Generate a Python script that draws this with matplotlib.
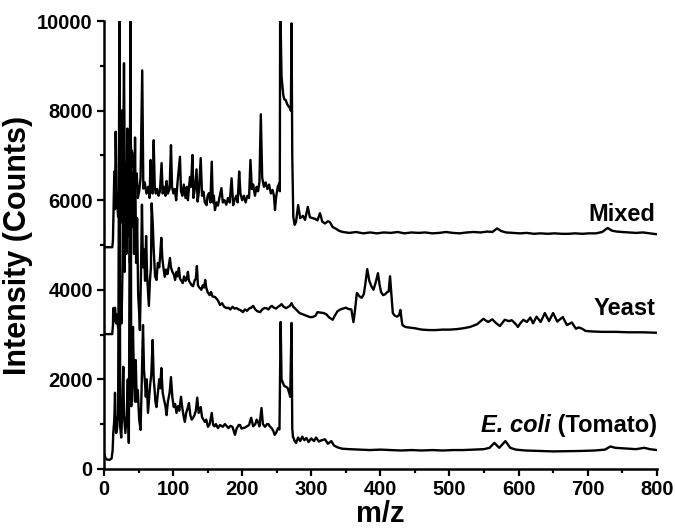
import matplotlib
matplotlib.use("Agg")
import matplotlib.pyplot as plt
from matplotlib.ticker import MultipleLocator

plt.rcParams['font.family'] = ['Liberation Sans', 'DejaVu Sans']
plt.rcParams['font.weight'] = 'bold'

# ---------------- data (m/z, counts) ----------------
mixed_points = [
    (0, 4950), (12, 4950), (13, 5100), (13.5, 5490), (15, 6640), (16, 5800), (17, 7530), (18.5, 6080),
    (20.5, 5630), (22.2, 6300), (24, 5490), (26.5, 8010), (27.5, 6500), (29, 9060), (30, 6900),
    (32.5, 6300), (34, 6600), (36, 6200), (37.5, 6500), (39.5, 7120), (41.6, 7050), (44, 6160),
    (46, 6400), (47.5, 6600), (49, 6050), (51, 6200), (53, 6500), (55.4, 8900), (57, 6260), (59, 6400),
    (61.5, 6150), (64, 6300), (66, 6050), (67.5, 6900), (69, 6200), (70.5, 6150), (72, 7340),
    (73.5, 6300), (75, 6150), (77, 6250), (79, 6100), (81, 6200), (83.4, 6830), (85, 6150), (87, 6300),
    (89, 6100), (90.6, 6430), (92.5, 6150), (95, 6250), (97, 7230), (98.5, 6300), (100.5, 6150),
    (102.5, 6250), (104.5, 6000), (106.5, 6400), (110, 6970), (111.5, 6200), (113.5, 6100),
    (115.5, 6350), (118, 6050), (120, 6300), (121.5, 6000), (123, 6250), (124.5, 6520), (126, 6300),
    (128, 7010), (129.5, 6050), (131.5, 6250), (134, 6690), (135.5, 5970), (137.5, 6200), (140, 6940),
    (142, 6100), (144, 6190), (146, 5950), (148.5, 5890), (150, 6100), (152, 6160), (154, 5950),
    (156, 6860), (157.5, 5950), (159, 6100), (160.6, 5780), (163, 5950), (165, 5880), (167, 6050),
    (170, 6270), (172, 5950), (174.5, 6000), (177, 5900), (179.5, 6050), (182, 5950), (184.7, 6490),
    (187, 5890), (189, 6000), (191.5, 6100), (193.5, 5950), (195.7, 6640), (197.5, 6150), (200, 6000),
    (202.5, 6100), (205, 5950), (207.5, 6100), (210, 6050), (212, 6900), (214, 6250), (216, 6350),
    (218.5, 6100), (221, 6300), (223, 6200), (225, 6400), (227, 7920), (229, 6500), (231.5, 6300),
    (234, 6400), (236.5, 6250), (239, 6350), (241.5, 6150), (244, 6230), (246, 6100), (247.5, 5780),
    (249, 6050), (251.5, 6300), (253.7, 6380), (254.5, 6200), (255, 10500), (257, 8760), (259.5, 8350),
    (261, 8250), (263, 8240), (265, 8150), (267, 8100), (269, 8060), (270.5, 8000), (271.5, 9950),
    (272.5, 7000), (274, 5630), (276, 5450), (278, 5520), (281, 5890), (284, 5600), (288, 5650),
    (291, 5560), (295, 5850), (298, 5620), (302, 5600), (306, 5580), (309, 5550), (312.6, 5710),
    (316, 5520), (320, 5480), (324, 5530), (327, 5510), (331, 5400), (336, 5360), (341, 5310),
    (346, 5290), (355, 5270), (365, 5290), (375, 5260), (385, 5280), (395, 5260), (405, 5280),
    (415, 5270), (425, 5290), (435, 5260), (445, 5280), (455, 5270), (465, 5280), (475, 5260),
    (485, 5270), (495, 5290), (505, 5270), (515, 5260), (525, 5280), (535, 5290), (545, 5280),
    (555, 5300), (562, 5290), (569, 5370), (575, 5310), (582, 5280), (592, 5270), (602, 5260),
    (612, 5270), (622, 5250), (632, 5260), (642, 5250), (652, 5260), (662, 5250), (672, 5250),
    (682, 5260), (692, 5250), (702, 5260), (712, 5260), (721, 5290), (729, 5380), (735, 5320),
    (742, 5300), (750, 5290), (760, 5280), (770, 5270), (780, 5280), (790, 5260), (800, 5240),
]

yeast_points = [
    (0, 3010), (12, 3010), (13, 3200), (13.5, 3590), (15, 3300), (16, 3600), (17.5, 3250), (19, 3450),
    (20.5, 3150), (22, 3200), (24, 3550), (25.5, 3250), (27, 4600), (28, 8000), (29, 5000), (30, 4400),
    (31.5, 6500), (32.5, 4800), (34, 7600), (35, 5200), (36.5, 6800), (37.5, 4600), (39, 7200),
    (40.5, 5400), (42, 6600), (43.5, 4800), (45, 7400), (46.5, 4600), (48, 5600), (49.5, 3900),
    (51, 3480), (52, 3100), (53.5, 4300), (55, 5900), (56.5, 4500), (58, 4900), (59.5, 4200),
    (61, 5200), (62.5, 4300), (63.7, 4000), (65, 3640), (66.5, 4200), (68, 4500), (69, 5930),
    (70.5, 5510), (72, 4900), (74, 4300), (76, 4220), (78, 4600), (80, 4500), (81.5, 4800), (83, 5160),
    (84.5, 4700), (86, 4500), (88, 4290), (90, 4450), (92, 4350), (94, 4550), (95.5, 4710), (97, 4500),
    (99, 4400), (101, 4350), (103, 4220), (105, 4400), (106.5, 4300), (108.5, 4490), (110, 4250),
    (112, 4200), (114, 4150), (116, 4300), (118, 4200), (120, 4250), (121.5, 4400), (123, 4200),
    (125, 4150), (127, 4100), (129, 4080), (131, 4200), (133, 4250), (134.5, 4530), (136, 4100),
    (138, 4050), (141, 4000), (143, 4100), (145, 4050), (146.5, 4220), (148, 4050), (150, 3950),
    (153, 3880), (155, 3950), (157, 3850), (160.6, 3840), (163, 3800), (165, 3760), (168, 3660),
    (171, 3700), (174, 3620), (177.5, 3590), (180, 3600), (183, 3560), (186, 3620), (189, 3580),
    (192, 3590), (195, 3560), (198, 3540), (201, 3500), (204, 3560), (207, 3530), (210, 3580),
    (213, 3600), (216, 3640), (219, 3560), (222, 3520), (226, 3500), (229, 3560), (232, 3590),
    (235, 3590), (238, 3560), (241, 3620), (243, 3640), (246, 3600), (249, 3580), (252, 3620),
    (255, 3650), (257, 3680), (260, 3620), (263.5, 3590), (267, 3620), (269, 3640), (271.5, 3700),
    (274, 3620), (278, 3560), (283, 3480), (288, 3450), (293, 3420), (298, 3390), (302, 3390),
    (306, 3420), (309, 3500), (313, 3490), (318, 3480), (322, 3450), (326, 3380), (331, 3330),
    (334, 3420), (338, 3520), (342, 3560), (346, 3580), (350, 3600), (354, 3570), (358, 3560),
    (361, 3280), (363, 3500), (366, 3930), (370, 3850), (373, 3820), (376, 3900), (378, 4100),
    (381, 4460), (384, 4200), (387, 4080), (390, 4000), (393, 4150), (396.5, 4370), (399, 4100),
    (401, 3950), (404, 3880), (407, 3900), (410, 3950), (412, 3960), (414, 4300), (416, 3900),
    (418, 3480), (421, 3420), (424, 3400), (427, 3430), (429, 3550), (431, 3300), (432, 3210),
    (436, 3170), (440, 3160), (450, 3140), (460, 3110), (470, 3100), (480, 3100), (490, 3110),
    (500, 3110), (510, 3120), (520, 3140), (530, 3170), (540, 3230), (549, 3350), (556, 3280),
    (562, 3340), (567, 3260), (573, 3190), (580, 3330), (586, 3300), (590, 3320), (595, 3250),
    (599, 3170), (603, 3260), (607, 3330), (612, 3280), (617, 3380), (621, 3250), (626, 3400),
    (632, 3280), (638, 3480), (644, 3300), (650, 3480), (656, 3290), (664, 3390), (670, 3210),
    (677, 3270), (683, 3130), (687, 3160), (692, 3130), (697, 3080), (705, 3070), (720, 3060),
    (740, 3060), (760, 3050), (780, 3050), (800, 3040),
]

ecoli_points = [
    (0, 380), (2, 250), (4, 210), (8, 200), (11, 230), (12.5, 400), (13.5, 800), (15, 1100), (16, 1700),
    (17, 1000), (17.6, 800), (19, 900), (20.5, 1200), (22.5, 10500), (23.5, 940), (25, 700),
    (26.5, 1300), (28, 2280), (29, 1200), (31, 800), (33, 1200), (34.5, 2000), (36, 580),
    (38.5, 10500), (39.5, 1400), (42, 3170), (43.5, 1900), (45, 1500), (46, 2430), (47.5, 1500),
    (49, 1760), (51, 1100), (53, 870), (54.5, 1800), (56.5, 3210), (58, 2200), (59.5, 1900),
    (60.6, 1610), (62, 2000), (63.7, 1250), (65, 1500), (67, 1900), (68.5, 2100), (70.5, 2880),
    (72, 2000), (73, 1830), (74.5, 1500), (76, 1380), (78, 1700), (80, 2000), (81.5, 1800), (83, 2250),
    (85, 1700), (87, 1540), (89, 1400), (90.6, 1200), (92.5, 1500), (95, 1700), (97, 2050), (99, 1600),
    (101, 1380), (103, 1450), (105, 1250), (107, 1400), (109, 1300), (111.5, 1610), (113.5, 1350),
    (115, 1200), (117, 1050), (119, 1250), (121, 1350), (123, 1470), (125, 1200), (127, 1100),
    (129, 1140), (131, 1200), (133, 1300), (135, 1590), (137, 1250), (140, 1380), (142, 1150),
    (144, 1100), (146, 1050), (148, 1100), (150.5, 940), (153, 1000), (156, 1250), (158, 980),
    (160, 950), (162, 1000), (165, 910), (168, 980), (172, 940), (175, 1000), (178, 950), (180, 910),
    (183, 960), (186, 940), (189.6, 760), (192, 900), (195, 980), (197, 980), (199, 900), (201, 910),
    (204, 920), (207, 950), (210, 980), (213, 1140), (216, 950), (219, 1000), (221, 1100), (223, 1050),
    (225, 950), (228, 1360), (230, 1000), (233, 940), (236, 1000), (238, 1000), (240, 950),
    (242.5, 910), (245, 850), (247, 760), (249, 800), (252, 910), (254, 880), (255.7, 3280),
    (257, 2000), (259, 1920), (261, 1850), (264, 1830), (266, 1800), (268, 1700), (269.5, 1610),
    (271.5, 3260), (272.5, 900), (273.5, 720), (276, 620), (278, 580), (281, 700), (284, 620),
    (287, 720), (290, 640), (293, 690), (296, 600), (300, 680), (304, 620), (307, 700), (311, 610),
    (315, 640), (320, 660), (324, 560), (329, 620), (333, 520), (338, 480), (345, 450), (355, 440),
    (370, 430), (385, 420), (400, 430), (415, 420), (430, 410), (445, 420), (460, 410), (475, 420),
    (490, 410), (505, 420), (520, 420), (535, 430), (550, 440), (558, 470), (565, 580), (572, 470),
    (581, 620), (588, 470), (596, 430), (610, 410), (630, 400), (650, 390), (670, 395), (690, 400),
    (710, 410), (725, 430), (733, 500), (740, 470), (750, 460), (760, 450), (770, 440), (782, 470),
    (790, 440), (800, 420),
]

x_ticks = [0, 100, 200, 300, 400, 500, 600, 700, 800]
y_ticks = [0, 2000, 4000, 6000, 8000, 10000]

# ---------------- figure ----------------
fig = plt.figure(figsize=(6.75, 5.28), dpi=100)
ax = fig.add_axes([0.154, 0.112, 0.819, 0.848])

for pts in (mixed_points, yeast_points, ecoli_points):
    xs = [p[0] for p in pts]
    ys = [p[1] for p in pts]
    ax.plot(xs, ys, color='black', lw=1.7)

ax.set_xlim(0, 800)
ax.set_ylim(0, 10000)
ax.set_xticks(x_ticks)
ax.set_yticks(y_ticks)
ax.xaxis.set_minor_locator(MultipleLocator(50))
ax.yaxis.set_minor_locator(MultipleLocator(1000))
ax.tick_params(which='major', direction='out', length=5, width=1.6, labelsize=14.5, pad=3)
ax.tick_params(which='minor', direction='out', length=3, width=1.6)
for lab in ax.get_xticklabels() + ax.get_yticklabels():
    lab.set_fontweight('bold')
for s in ['top', 'right']:
    ax.spines[s].set_visible(False)
for s in ['left', 'bottom']:
    ax.spines[s].set_linewidth(1.8)

ax.set_xlabel('m/z', fontsize=21, fontweight='bold', labelpad=1)
ax.set_ylabel('Intensity (Counts)', fontsize=22, fontweight='bold', labelpad=3)

ax.text(798, 5535, 'Mixed', ha='right', va='baseline', fontsize=17, fontweight='bold')
ax.text(798, 3440, 'Yeast', ha='right', va='baseline', fontsize=17, fontweight='bold')
t_tom = ax.text(800, 826, ' (Tomato)', ha='right', va='baseline', fontsize=17, fontweight='bold')
ax.annotate('E. coli', xy=(0, 0), xycoords=t_tom, ha='right', va='bottom', fontsize=17,
            fontweight='bold', fontstyle='italic')

fig.savefig('out.png', dpi=100)
